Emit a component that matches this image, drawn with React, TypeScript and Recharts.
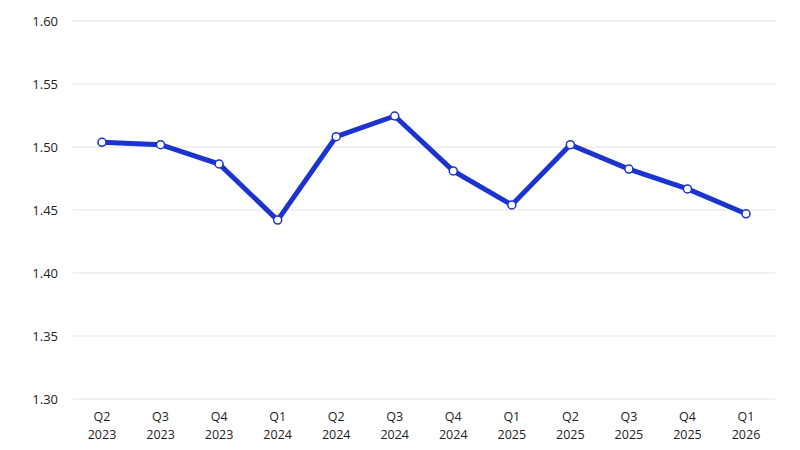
import React from "react";
import { LineChart, Line, XAxis, YAxis, CartesianGrid } from "recharts";

const quarters = ["Q2", "Q3", "Q4", "Q1", "Q2", "Q3", "Q4", "Q1", "Q2", "Q3", "Q4", "Q1"];
const years = ["2023", "2023", "2023", "2024", "2024", "2024", "2024", "2025", "2025", "2025", "2025", "2026"];
const values = [1.5037, 1.5018, 1.4865, 1.442, 1.5082, 1.5246, 1.481, 1.454, 1.5018, 1.4825, 1.4667, 1.447];
const yTicks = [1.3, 1.35, 1.4, 1.45, 1.5, 1.55, 1.6];

const data = values.map((v, i) => ({ key: `${quarters[i]} ${years[i]}`, q: quarters[i], y: years[i], value: v }));

const FONT = "'Open Sans', Lato, 'Noto Sans', sans-serif";

const XTick = (props: any) => {
  const { x, y, payload } = props;
  const [q, yr] = String(payload.value).split(" ");
  return (
    <g transform={`translate(${x},${y})`}>
      <text textAnchor="middle" fill="#222" fontSize={12.5} fontFamily={FONT}>
        <tspan x={0} dy={14}>{q}</tspan>
        <tspan x={0} dy={18}>{yr}</tspan>
      </text>
    </g>
  );
};

export default function App() {
  return (
    <div style={{ position: "absolute", left: 0, top: 0, width: 800, height: 450, background: "#fff" }}>
      <LineChart width={800} height={450} data={data} margin={{ top: 21, right: 25, bottom: 0, left: 0 }}>
        <CartesianGrid vertical={false} stroke="#e3e3e3" strokeWidth={1} />
        <XAxis
          dataKey="key"
          axisLine={false}
          tickLine={false}
          height={51}
          padding={{ left: 29, right: 29 }}
          interval={0}
          tick={<XTick />}
        />
        <YAxis
          domain={[1.3, 1.6]}
          ticks={yTicks}
          axisLine={false}
          tickLine={false}
          width={73}
          tickSize={0}
          tickMargin={15}
          tickFormatter={(v: number) => v.toFixed(2)}
          tick={{ fill: "#222", fontSize: 13, fontFamily: FONT }}
        />
        <Line
          type="linear"
          dataKey="value"
          stroke="#1b33cf"
          strokeWidth={5}
          dot={{ r: 4, fill: "#fff", stroke: "#1b33cf", strokeWidth: 1.5 }}
          activeDot={false}
          isAnimationActive={false}
        />
      </LineChart>
    </div>
  );
}
